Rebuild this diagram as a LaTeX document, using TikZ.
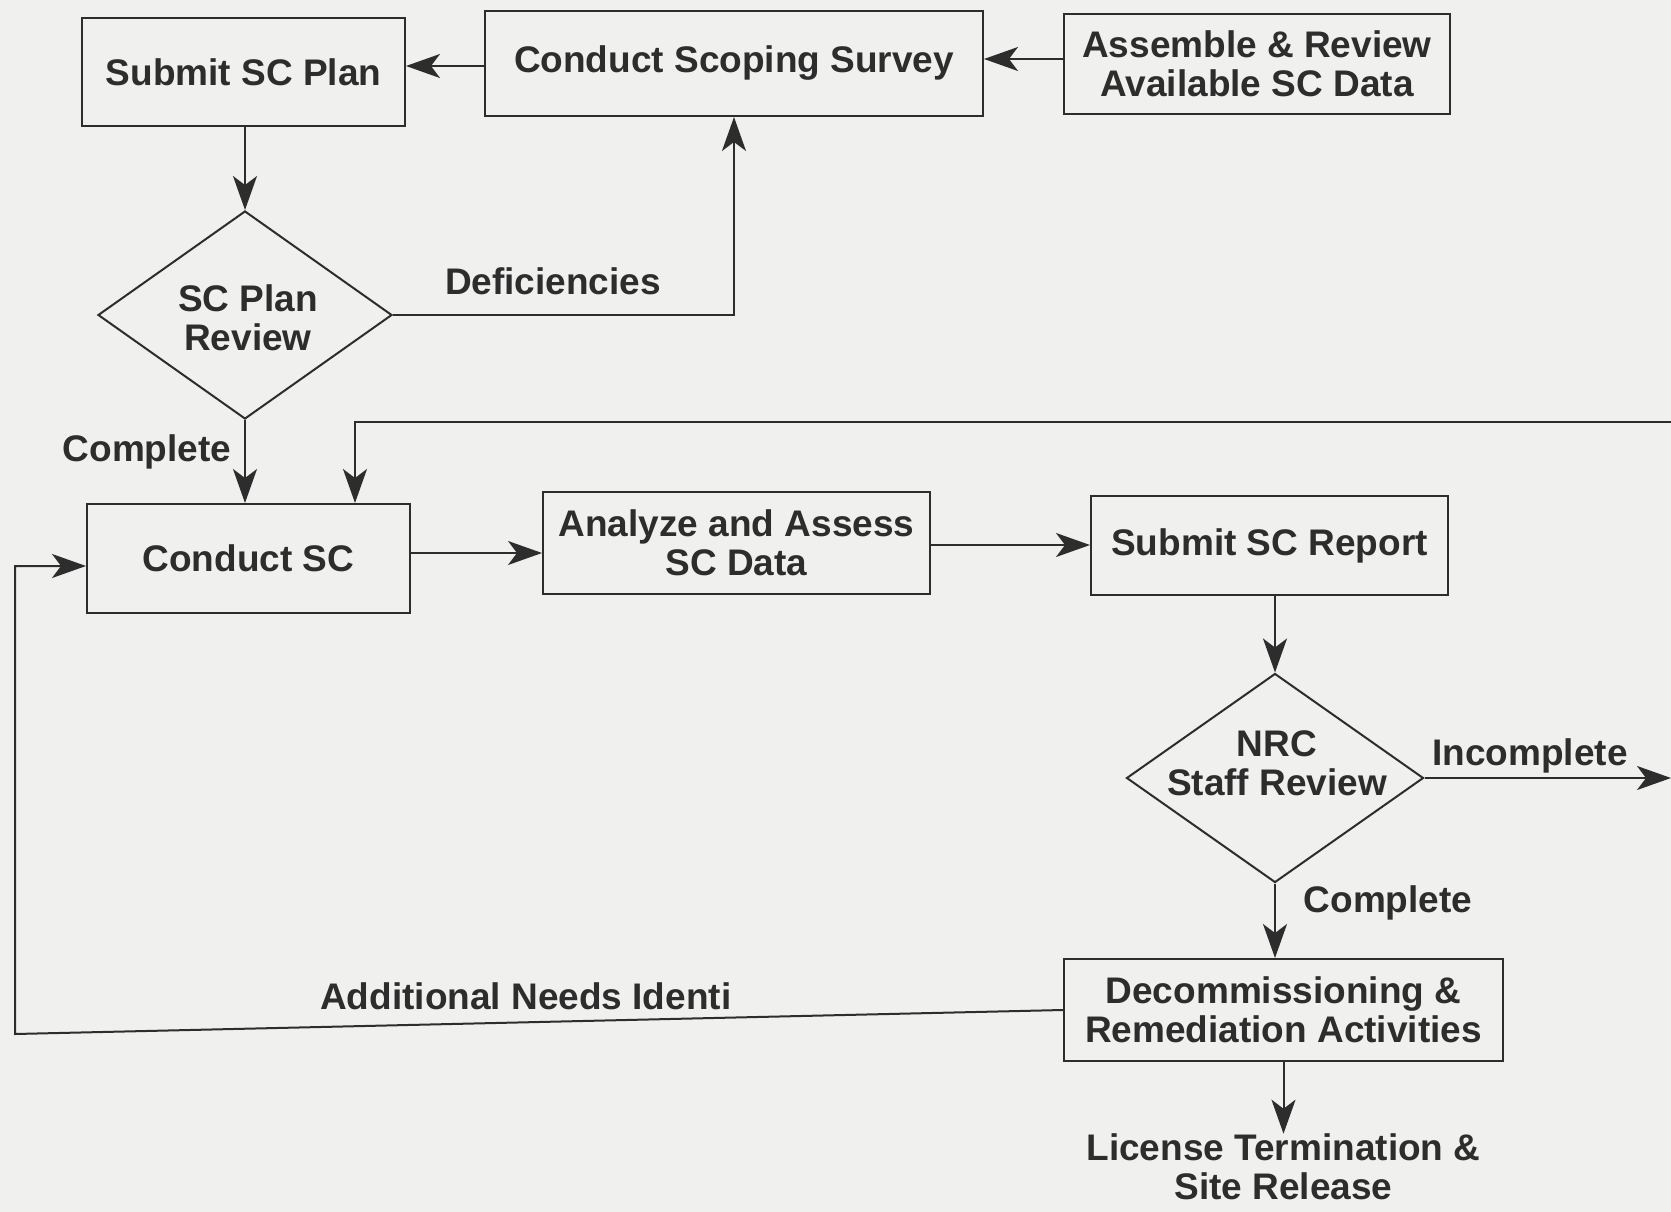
\documentclass[tikz,border=0pt]{standalone}
\usepackage{fontspec}
\setmainfont{Liberation Sans}
\usetikzlibrary{arrows.meta,shapes.geometric}
\definecolor{bg}{RGB}{240,240,238}
\definecolor{ink}{RGB}{45,45,45}
\begin{document}
\begin{tikzpicture}[x=1pt,y=-1pt,
  every node/.style={font=\fontsize{37}{39}\selectfont\bfseries, text=ink},
  box/.style={draw=ink, line width=2pt, inner sep=0pt, align=center},
  dia/.style={draw=ink, line width=2pt, diamond, inner sep=0pt},
  lbl/.style={inner sep=0pt},
  conn/.style={draw=ink, line width=2pt},
  arr/.style={conn, -{Stealth[length=34pt,width=24pt,inset=9pt]}}
]
\useasboundingbox (0,0) rectangle (1671,1212);
\fill[bg] (0,0) rectangle (1671,1212);

\node[box, minimum width=323pt, minimum height=108pt] (scp) at (243.5,72) {Submit SC Plan};
\node[box, minimum width=498pt, minimum height=105pt] (css) at (734,63.5) {Conduct Scoping Survey};
\node[box, minimum width=386pt, minimum height=100pt] (asm) at (1257,64) {Assemble \& Review\\Available SC Data};
\node[dia, minimum width=294pt, minimum height=208pt] (d1) at (245,315) {};
\node[lbl, align=center] (d1t) at (248,318) {SC Plan\\Review};
\node[box, minimum width=323pt, minimum height=109pt] (csc) at (248.5,558.5) {Conduct SC};
\node[box, minimum width=387pt, minimum height=102pt] (an) at (736.5,543) {Analyze and Assess\\SC Data};
\node[box, minimum width=357pt, minimum height=99pt] (rep) at (1269.5,545.5) {Submit SC Report};
\node[dia, minimum width=297pt, minimum height=209pt] (d2) at (1275,778) {};
\node[lbl, align=center] (d2t) at (1277,763) {NRC\\Staff Review};
\node[box, minimum width=439pt, minimum height=102pt] (dec) at (1283.5,1010) {Decommissioning \&\\Remediation Activities};
\node[lbl, align=center] (lic) at (1283.5,1167) {License Termination \&\\Site Release};

\node[lbl] (def) at (553,281) {Deficiencies};
\node[lbl] (cmp1) at (147,452) {Complete};
\node[lbl] (inc) at (1530,756) {Incomplete};
\node[lbl] (cmp2) at (1388,903) {Complete};
\node[lbl, anchor=west] (add) at (320,996) {Additional Needs Identi};

\coordinate (rtop) at (1671,422);
\coordinate (tk) at (355,422);
\coordinate (rinc) at (1671,778);
\coordinate (lc) at (15,1034);
\coordinate (lup) at (15,566);

\draw[arr] (css.west |- 0,66) -- (scp.east |- 0,66);
\draw[arr] (asm.west |- 0,59) -- (css.east |- 0,59);
\draw[arr] (scp.south -| d1.north) -- (d1.north);
\draw[arr] (d1.east) -- (d1.east -| css.south) -- (css.south);
\draw[arr] (d1.south) -- (d1.south |- csc.north);
\draw[arr] (rtop) -- (tk) -- (tk |- csc.north);
\draw[arr] (csc.east |- 0,553) -- (an.west |- 0,553);
\draw[arr] (an.east |- 0,545) -- (rep.west |- 0,545);
\draw[arr] (rep.south -| d2.north) -- (d2.north);
\draw[arr] (d2.east) -- (rinc);
\draw[arr] (d2.south) -- (d2.south |- dec.north);
\draw[arr] (dec.south) -- (dec.south |- lic.north);
\draw[arr] (dec.west) -- (lc) -- (lup) -- (csc.west |- lup);
\end{tikzpicture}
\end{document}
